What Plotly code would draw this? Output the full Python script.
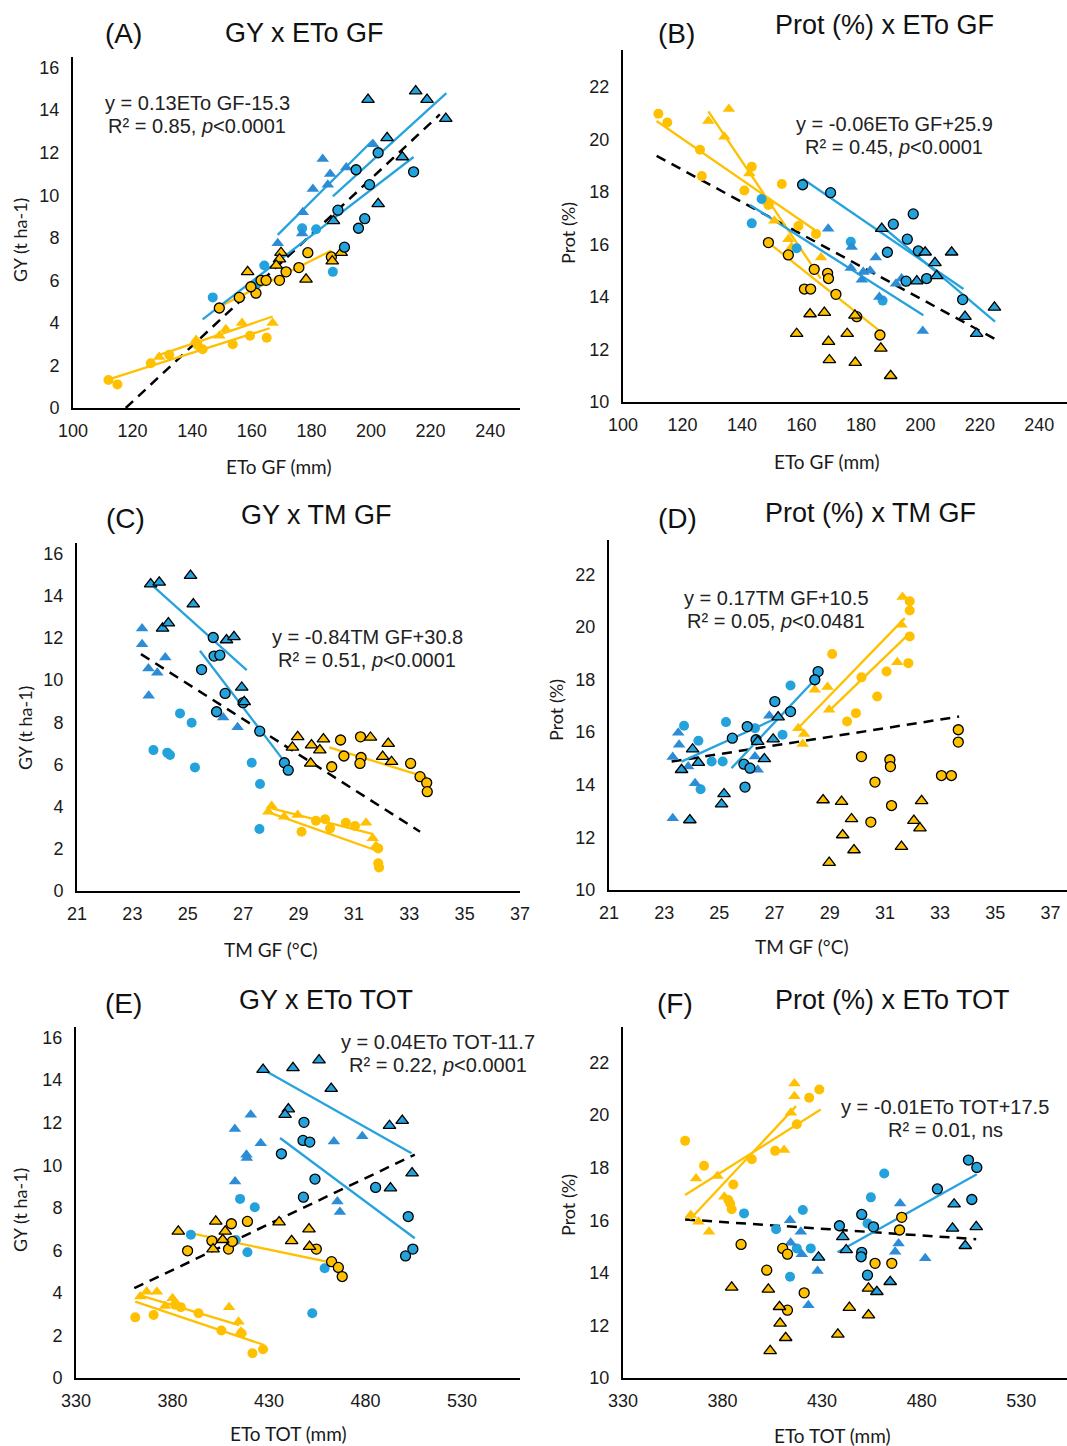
import plotly.graph_objects as go

W, H = 1067, 1446

# ---------------- DATA ----------------
# Panel A : GY x ETo GF
A_YC_o = [(149.1,4.7),(155.8,5.2),(161.4,5.4),(159.7,5.7),(163.1,6.0),(164.8,6.0),(169.3,6.0),(171.5,6.4),(175.8,6.6),(178.8,7.3),(186.7,7.1)]
A_YC_n = [(111.9,1.32),(114.9,1.11),(126.1,2.1),(132.3,2.5),(141.8,2.96),(143.5,2.76),(153.6,3.0),(159.4,3.4),(165.0,3.3)]
A_YT_o = [(169.8,7.3),(169.3,7.0),(168.2,6.7),(158.6,6.4),(178.2,6.05),(190.0,7.3),(187.0,6.9)]
A_YT_n = [(128.9,2.4),(141.3,3.2),(149.1,3.4),(151.3,3.7),(156.7,4.0),(167.0,4.0)]
A_BC_o = [(202.4,12.0),(195.0,11.2),(199.5,10.5),(214.3,11.1),(188.9,9.3),(197.9,8.9),(195.8,8.45),(191.1,7.56)]
A_BC_n = [(176.9,8.45),(181.6,8.4),(187.2,6.4),(146.9,5.2),(164.2,6.7),(161.5,5.8)]
A_BT_o = [(199.0,14.5),(215.0,14.9),(218.8,14.5),(225.1,13.6),(205.4,12.7),(210.5,11.8),(202.4,9.6),(187.4,8.8)]
A_BT_n = [(200.7,12.4),(191.7,11.3),(183.8,11.7),(186.3,11.0),(185.5,10.5),(180.5,10.3),(177.1,9.2),(176.9,8.2),(168.7,7.75)]
A_fit_yellow = [(112,166,1.35,3.75),(128,167,2.45,4.3),(149.1,186.7,4.76,7.4)]
A_fit_blue = [(143.5,214.3,4.17,11.8),(168.7,200.7,8.14,12.6),(187.2,225.3,9.95,14.8)]
A_dash = (117.7,223.1,0.0,13.8)

# Panel B : Prot x ETo GF
B_YC_n = [(111.9,20.97),(114.9,20.64),(125.9,19.6),(126.5,18.6),(143.3,18.96),(140.8,18.05),(153.4,18.3),(148.9,17.5),(159.0,16.7),(164.9,16.4)]
B_YT_n = [(135.6,21.15),(128.7,20.7),(134.1,20.1),(142.5,18.7),(148.9,17.6),(150.9,16.9),(155.6,16.2),(156.7,15.9),(166.6,15.5)]
B_YC_o = [(148.9,16.07),(155.6,15.6),(164.3,15.05),(161.0,14.3),(163.1,14.3),(168.8,14.9),(169.1,14.7),(171.6,14.1),(178.6,13.25),(186.4,12.55)]
B_YT_o = [(158.4,12.6),(162.9,13.35),(167.7,13.4),(169.1,12.3),(169.4,11.6),(175.4,12.6),(178.0,13.3),(178.1,11.5),(186.7,12.04),(190.0,11.0)]
B_BC_o = [(160.4,18.27),(169.8,17.97),(190.9,16.77),(197.6,17.16),(195.6,16.2),(188.9,15.7),(199.3,15.75),(195.2,14.6),(202.1,14.7),(214.2,13.9)]
B_BT_o = [(187.0,16.6),(201.6,15.7),(210.5,15.7),(204.9,15.3),(205.5,14.8),(198.8,14.6),(215.0,13.25),(224.9,13.6),(218.9,12.6)]
B_BC_n = [(146.6,17.73),(143.3,16.8),(176.6,16.1),(187.3,13.86),(158.4,15.85)]
B_BT_n = [(169.0,16.6),(176.9,15.9),(176.6,15.1),(180.3,14.65),(180.8,14.95),(183.1,15.0),(185.0,15.5),(186.2,14.0),(191.8,14.5),(193.7,14.7),(200.8,12.7)]
B_fit_yellow = [(111.3,165.7,20.7,16.45),(128.7,166.5,21.06,14.7),(148.9,186.4,16.07,12.7)]
B_fit_blue = [(160.4,214.5,18.5,14.3),(187.0,225.1,16.7,13.06),(142.7,201.0,17.5,13.3)]
B_dash = (111.3,225.1,19.37,12.4)

# Panel C : GY x TM GF
C_BT_o = [(23.66,14.55),(23.97,14.63),(25.1,14.95),(25.2,13.6),(24.09,12.45),(24.3,12.7),(26.4,11.9),(26.67,12.05),(26.95,9.65),(27.04,8.97)]
C_BC_o = [(25.92,12.02),(25.95,11.14),(26.16,11.18),(25.5,10.5),(26.35,9.37),(26.04,8.5),(27.0,8.93),(27.6,7.58),(28.49,6.08),(28.63,5.73)]
C_BT_n = [(23.35,12.45),(23.35,11.7),(23.58,10.55),(23.9,10.35),(24.19,11.07),(23.59,9.26),(26.28,8.23),(26.8,7.76)]
C_BC_n = [(24.72,8.42),(25.14,7.98),(23.76,6.68),(24.26,6.56),(24.36,6.45),(25.26,5.86),(27.31,6.08),(27.61,5.07),(27.59,2.94)]
C_YT_o = [(28.97,7.31),(28.78,6.81),(29.47,6.92),(29.77,6.68),(29.9,7.2),(31.6,7.28),(32.24,6.99),(32.04,6.37),(32.36,6.13),(29.44,6.05)]
C_YC_o = [(30.52,7.16),(31.24,7.31),(30.64,6.4),(31.26,6.33),(31.22,6.05),(30.2,5.89),(33.05,6.05),(33.39,5.42),(33.63,5.13),(33.65,4.71)]
C_YT_n = [(28.03,4.03),(27.91,3.76),(28.48,3.52),(28.97,3.6),(31.44,3.24),(31.68,2.5),(31.8,2.13)]
C_YC_n = [(29.11,2.81),(29.63,3.33),(29.96,3.4),(30.14,2.97),(30.71,3.24),(31.04,3.08),(31.88,2.02),(31.88,1.31),(31.91,1.12)]
C_fit_yellow = [(30.11,33.63,6.81,5.39),(28.03,31.7,3.92,2.7),(27.85,31.94,3.76,1.86)]
C_fit_blue = [(23.78,27.13,14.42,10.47),(25.44,28.43,11.39,6.24)]
C_dash = (23.31,33.39,11.23,2.81)

# Panel D : Prot x TM GF
D_YT_n = [(31.64,21.13),(31.6,20.08),(31.45,18.65),(28.46,17.61),(28.92,17.71),(28.98,16.85),(27.86,16.15),(28.07,15.93),(28.02,15.55)]
D_YC_n = [(31.9,20.97),(31.9,20.62),(31.9,19.63),(29.09,18.97),(31.85,18.62),(31.06,18.3),(30.15,18.08),(30.72,17.35),(29.95,16.72),(29.63,16.4)]
D_YC_o = [(33.66,16.09),(33.66,15.62),(30.15,15.07),(31.18,14.95),(31.2,14.69),(30.64,14.1),(33.05,14.35),(33.41,14.35),(31.24,13.21),(30.49,12.58)]
D_YT_o = [(28.76,13.42),(29.43,13.36),(29.79,12.7),(29.47,12.09),(29.88,11.52),(28.98,11.04),(32.33,13.39),(32.05,12.64),(32.27,12.35),(31.6,11.65)]
D_BC_o = [(28.58,18.3),(28.46,17.99),(27.01,17.16),(27.58,16.78),(26.01,16.21),(25.47,15.77),(26.33,15.71),(25.89,14.78),(26.11,14.63),(25.93,13.91)]
D_BT_o = [(24.03,15.35),(24.24,14.84),(23.63,14.57),(26.95,15.73),(27.13,16.57),(26.63,14.98),(26.39,15.64),(25.17,13.65),(25.08,13.26),(23.93,12.66)]
D_BC_n = [(23.72,16.24),(24.24,15.67),(25.24,16.38),(24.72,14.88),(25.12,14.88),(24.32,13.83),(27.58,17.77),(27.29,15.9),(26.29,16.15)]
D_BT_n = [(23.51,15.98),(23.54,15.52),(23.31,15.05),(23.87,14.69),(24.12,14.06),(23.31,12.73),(26.81,16.62),(26.29,15.07),(26.39,14.57)]
D_fit_yellow = [(27.8,31.72,16.09,20.33),(28.95,31.9,16.78,19.76)]
D_fit_blue = [(23.63,26.95,14.88,16.47),(25.44,28.46,14.63,17.99)]
D_dash = (23.27,33.69,14.88,16.59)

# Panel E : GY x ETo TOT
E_BT_o = [(426.9,14.5),(442.4,14.58),(455.9,14.94),(462.2,13.6),(440.0,12.64),(438.3,12.38),(492.4,11.86),(499.0,12.1),(504.1,9.63),(492.9,8.93)]
E_BC_o = [(448.1,12.02),(447.6,11.17),(451.1,11.09),(436.4,10.54),(453.8,9.35),(447.8,8.5),(485.2,8.96),(502.1,7.59),(504.5,6.06),(500.7,5.74)]
E_BT_n = [(420.5,12.38),(412.3,11.7),(425.7,11.04),(418.3,10.5),(418.5,10.34),(412.4,9.24),(463.6,11.12),(478.3,11.36),(465.4,8.3),(466.7,7.8)]
E_BC_n = [(415.0,8.42),(422.6,8.03),(389.5,6.73),(412.8,6.49),(418.8,5.91),(458.8,5.16),(452.4,3.04)]
E_YT_o = [(383.0,6.89),(402.4,7.36),(407.3,6.89),(401.0,6.06),(435.2,7.33),(441.7,6.45),(450.7,7.0),(451.0,6.18),(406.0,6.5)]
E_YC_o = [(387.8,5.98),(400.4,6.45),(409.0,6.06),(410.5,7.25),(411.0,6.42),(418.8,7.36),(454.5,6.06),(462.4,5.47),(465.9,5.2),(467.9,4.77)]
E_YT_n = [(366.6,4.06),(371.9,4.06),(363.3,3.83),(380.0,3.75),(376.2,3.39),(409.3,3.33),(414.2,2.65),(415.4,2.18)]
E_YC_n = [(360.7,2.85),(370.2,2.96),(381.4,3.44),(384.3,3.33),(393.5,3.04),(405.3,2.23),(415.7,2.1),(421.4,1.16),(426.9,1.35)]
E_fit_yellow = [(387.4,467.9,6.84,5.32),(362.8,414.5,3.9,2.49),(360.7,427.4,3.59,1.55)]
E_fit_blue = [(426.9,503.8,14.5,10.57),(435.7,505.5,11.28,6.57)]
E_dash = (360.2,505.5,4.22,10.5)

# Panel F : Prot x ETo TOT
F_YC_n = [(361.2,19.02),(370.7,18.07),(385.4,17.36),(382.9,16.77),(383.8,16.64),(384.6,16.42),(394.7,18.32),(406.4,18.64),(417.3,19.65),(423.5,20.66),(428.6,20.97)]
F_YT_n = [(416.1,21.2),(416.1,20.72),(414.3,20.09),(410.9,18.67),(377.4,17.68),(366.7,17.59),(380.9,16.89),(364.0,16.2),(367.9,15.94),(373.2,15.56)]
F_YC_o = [(389.3,15.08),(402.2,14.1),(410.2,14.93),(412.6,14.71),(421.0,13.24),(412.6,12.58),(456.6,14.36),(465.0,14.36),(470.0,16.11),(468.9,15.63)]
F_YT_o = [(384.6,13.45),(403.0,13.37),(408.6,12.71),(408.9,12.08),(411.7,11.53),(403.9,11.03),(443.7,12.68),(437.9,11.66),(453.3,13.41),(453.3,12.39)]
F_BC_o = [(503.5,18.29),(507.7,18.01),(487.9,17.19),(505.2,16.79),(449.9,16.22),(438.7,15.79),(455.8,15.75),(449.9,14.78),(449.6,14.61),(452.8,13.91)]
F_BT_o = [(496.3,16.61),(495.5,15.69),(507.4,15.75),(501.9,15.03),(440.4,15.37),(442.1,14.87),(428.2,14.59),(457.5,13.28),(464.2,13.66)]
F_BC_n = [(390.8,16.26),(406.9,15.66),(420.3,16.39),(417.3,14.93),(424.3,14.93),(413.9,13.85),(454.5,16.87),(461.2,17.78),(452.8,15.88)]
F_BT_n = [(413.9,16.0),(419.3,15.56),(414.2,15.14),(419.8,14.71),(427.7,14.07),(423.1,12.77),(469.2,16.64),(468.4,15.12),(466.7,14.8),(481.8,14.55)]
F_fit_yellow = [(361.2,429.3,16.96,20.21),(363.7,416.9,16.04,20.34)]
F_fit_blue = [(437.7,507.7,14.78,17.75)]
F_dash = (361.2,507.4,16.03,15.28)

# Axis ticks
ETO_GF_TICKS = [100, 120, 140, 160, 180, 200, 220, 240]
TM_GF_TICKS = [21, 23, 25, 27, 29, 31, 33, 35, 37]
ETO_TOT_TICKS = [330, 380, 430, 480, 530]
GY_TICKS = [0, 2, 4, 6, 8, 10, 12, 14, 16]
PROT_TICKS = [10, 12, 14, 16, 18, 20, 22]

# Texts
LETTERS = ["(A)", "(B)", "(C)", "(D)", "(E)", "(F)"]
TITLES = ["GY x ETo GF", "Prot (%) x ETo GF", "GY x TM GF", "Prot (%) x TM GF", "GY x ETo TOT", "Prot (%) x ETo TOT"]
EQ1 = ["y = 0.13ETo GF-15.3", "y = -0.06ETo GF+25.9", "y = -0.84TM GF+30.8", "y = 0.17TM GF+10.5", "y = 0.04ETo TOT-11.7", "y = -0.01ETo TOT+17.5"]
EQ2 = ["R² = 0.85, <i>p</i>&lt;0.0001", "R² = 0.45, <i>p</i>&lt;0.0001", "R² = 0.51, <i>p</i>&lt;0.0001", "R² = 0.05, <i>p</i>&lt;0.0481", "R² = 0.22, <i>p</i>&lt;0.0001", "R² = 0.01, ns"]
XTITLES = ["ETo GF (mm)", "ETo GF (mm)", "TM GF (°C)", "TM GF (°C)", "ETo TOT (mm)", "ETo TOT (mm)"]
YTITLES = ["GY (t ha-1)", "Prot (%)", "GY (t ha-1)", "Prot (%)", "GY (t ha-1)", "Prot (%)"]

# ---------------- STYLE / LAYOUT ----------------
YEL = "#FFC000"
BLUE_C = "#23A2DC"
BLUE_T = "#2D8CD6"
FIT_BLUE = "#26A3DE"

panels = [
    dict(data=[A_YC_n, A_YT_n, A_BC_n, A_BT_n, A_YC_o, A_YT_o, A_BC_o, A_BT_o], fy=A_fit_yellow, fb=A_fit_blue, dash=A_dash,
         px=(73, 520), py=(57, 408), xr=(100, 250), yr=(0, 16.5), xt=ETO_GF_TICKS, yt=GY_TICKS,
         letter=(123, 33), title=(304, 33), eq=(197, 103), xtit=(278, 467), ytit=(20, 240)),
    dict(data=[B_YC_n, B_YT_n, B_BC_n, B_BT_n, B_YC_o, B_YT_o, B_BC_o, B_BT_o], fy=B_fit_yellow, fb=B_fit_blue, dash=B_dash,
         px=(623, 1067), py=(50, 402), xr=(100, 249.3), yr=(10, 23.4), xt=ETO_GF_TICKS, yt=PROT_TICKS,
         letter=(676, 33), title=(884, 25), eq=(894, 124), xtit=(826, 462), ytit=(568, 233)),
    dict(data=[C_YC_n, C_YT_n, C_BC_n, C_BT_n, C_YC_o, C_YT_o, C_BC_o, C_BT_o], fy=C_fit_yellow, fb=C_fit_blue, dash=C_dash,
         px=(77, 520), py=(543, 891), xr=(21, 37), yr=(0, 16.5), xt=TM_GF_TICKS, yt=GY_TICKS,
         letter=(125, 518), title=(316, 515), eq=(367, 637), xtit=(271, 949), ytit=(25, 728)),
    dict(data=[D_YC_n, D_YT_n, D_BC_n, D_BT_n, D_YC_o, D_YT_o, D_BC_o, D_BT_o], fy=D_fit_yellow, fb=D_fit_blue, dash=D_dash,
         px=(609, 1067), py=(540, 890), xr=(21, 37.6), yr=(10, 23.3), xt=TM_GF_TICKS, yt=PROT_TICKS,
         letter=(677, 518), title=(870, 513), eq=(776, 598), xtit=(802, 946), ytit=(556, 710)),
    dict(data=[E_YC_n, E_YT_n, E_BC_n, E_BT_n, E_YC_o, E_YT_o, E_BC_o, E_BT_o], fy=E_fit_yellow, fb=E_fit_blue, dash=E_dash,
         px=(76, 520), py=(1027, 1378), xr=(330, 560), yr=(0, 16.5), xt=ETO_TOT_TICKS, yt=GY_TICKS,
         letter=(123, 1003), title=(326, 1000), eq=(438, 1042), xtit=(288, 1433), ytit=(20, 1210)),
    dict(data=[F_YC_n, F_YT_n, F_BC_n, F_BT_n, F_YC_o, F_YT_o, F_BC_o, F_BT_o], fy=F_fit_yellow, fb=F_fit_blue, dash=F_dash,
         px=(623, 1067), py=(1027, 1378), xr=(330, 553), yr=(10, 23.35), xt=ETO_TOT_TICKS, yt=PROT_TICKS,
         letter=(675, 1003), title=(892, 1000), eq=(945, 1107), xtit=(832, 1435), ytit=(568, 1205)),
]

series_style = [
    ("circle", YEL, 0), ("triangle-up", YEL, 0), ("circle", BLUE_C, 0), ("triangle-up", BLUE_T, 0),
    ("circle", YEL, 1.3), ("triangle-up", YEL, 1.3), ("circle", BLUE_C, 1.3), ("triangle-up", BLUE_C, 1.3),
]

TICKFONT = dict(family="Liberation Sans, Arial", size=18, color="#1a1a1a")
fig = go.Figure()
annotations = []
layout = dict(width=W, height=H, margin=dict(l=0, r=0, t=0, b=0, pad=0, autoexpand=False),
              plot_bgcolor="white", paper_bgcolor="white", showlegend=False)


def px2paper(x, y):
    return x / W, 1 - y / H


for i, p in enumerate(panels):
    n = i + 1
    xa = "x" if n == 1 else f"x{n}"
    ya = "y" if n == 1 else f"y{n}"
    xkey = "xaxis" if n == 1 else f"xaxis{n}"
    ykey = "yaxis" if n == 1 else f"yaxis{n}"
    layout[xkey] = dict(domain=[p["px"][0] / W, p["px"][1] / W], range=list(p["xr"]), anchor=ya,
                        showline=True, linecolor="black", linewidth=2, showgrid=False, zeroline=False,
                        tickvals=p["xt"], ticks="", tickfont=TICKFONT, ticklabelstandoff=5)
    layout[ykey] = dict(domain=[1 - p["py"][1] / H, 1 - p["py"][0] / H], range=list(p["yr"]), anchor=xa,
                        showline=True, linecolor="black", linewidth=2, showgrid=False, zeroline=False,
                        tickvals=p["yt"], ticks="", tickfont=TICKFONT, ticklabelstandoff=8)

    # dashed overall regression
    d = p["dash"]
    fig.add_trace(go.Scatter(x=[d[0], d[1]], y=[d[2], d[3]], mode="lines", xaxis=xa, yaxis=ya,
                             line=dict(color="black", width=2.5, dash="10px,7px"), hoverinfo="skip"))
    # group fits
    for f in p["fy"]:
        fig.add_trace(go.Scatter(x=[f[0], f[1]], y=[f[2], f[3]], mode="lines", xaxis=xa, yaxis=ya,
                                 line=dict(color=YEL, width=2.3), hoverinfo="skip"))
    for f in p["fb"]:
        fig.add_trace(go.Scatter(x=[f[0], f[1]], y=[f[2], f[3]], mode="lines", xaxis=xa, yaxis=ya,
                                 line=dict(color=FIT_BLUE, width=2.3), hoverinfo="skip"))
    # points
    for pts, (sym, col, lw) in zip(p["data"], series_style):
        size = 10 if sym == "circle" else 11
        fig.add_trace(go.Scatter(x=[q[0] for q in pts], y=[q[1] for q in pts], mode="markers",
                                 xaxis=xa, yaxis=ya,
                                 marker=dict(symbol=sym, size=size, color=col,
                                             line=dict(color="black", width=lw))))

    # texts
    lx, ly = px2paper(*p["letter"])
    annotations.append(dict(x=lx, y=ly, xref="paper", yref="paper", text=LETTERS[i], showarrow=False,
                            xanchor="center", yanchor="middle",
                            font=dict(family="Liberation Sans, Arial", size=28, color="#111")))
    tx, ty = px2paper(*p["title"])
    annotations.append(dict(x=tx, y=ty, xref="paper", yref="paper", text=TITLES[i], showarrow=False,
                            xanchor="center", yanchor="middle",
                            font=dict(family="Liberation Sans, Arial", size=27, color="#111")))
    ex, ey = px2paper(*p["eq"])
    annotations.append(dict(x=ex, y=ey, xref="paper", yref="paper", text=EQ1[i], showarrow=False,
                            xanchor="center", yanchor="middle",
                            font=dict(family="Liberation Sans, Arial", size=20, color="#222")))
    ex2, ey2 = px2paper(p["eq"][0], p["eq"][1] + 23)
    annotations.append(dict(x=ex2, y=ey2, xref="paper", yref="paper", text=EQ2[i], showarrow=False,
                            xanchor="center", yanchor="middle",
                            font=dict(family="Liberation Sans, Arial", size=20, color="#222")))
    xx, xy = px2paper(*p["xtit"])
    annotations.append(dict(x=xx, y=xy, xref="paper", yref="paper", text=XTITLES[i], showarrow=False,
                            xanchor="center", yanchor="middle",
                            font=dict(family="Lato, Open Sans", size=19, color="#1a1a1a")))
    yx, yy = px2paper(*p["ytit"])
    annotations.append(dict(x=yx, y=yy, xref="paper", yref="paper", text=YTITLES[i], showarrow=False,
                            xanchor="center", yanchor="middle", textangle=-90,
                            font=dict(family="Lato, Open Sans", size=18, color="#1a1a1a")))

layout["annotations"] = annotations
fig.update_layout(**layout)
fig.write_html("out.html", config={"displayModeBar": False},
               post_script="document.body.style.margin='0';document.body.style.padding='0';"
                           "document.body.style.overflow='hidden';")
